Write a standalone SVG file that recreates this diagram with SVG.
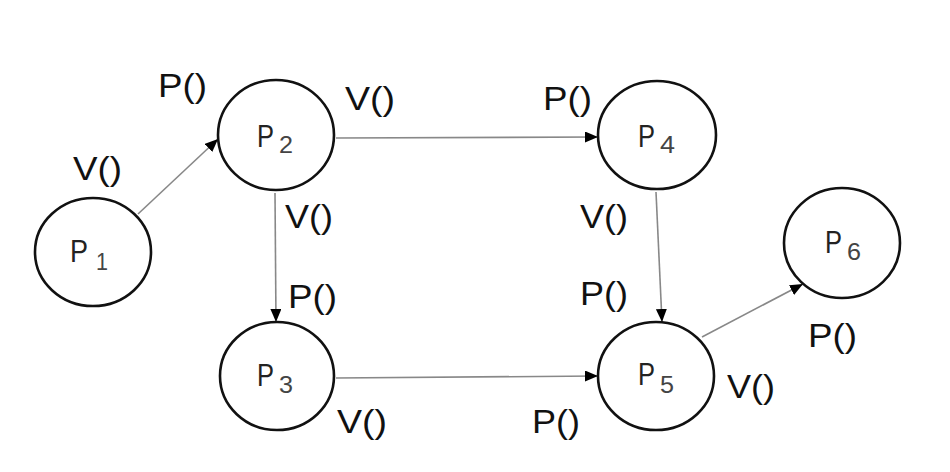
<svg xmlns="http://www.w3.org/2000/svg" width="950" height="472" viewBox="0 0 950 472">
<style>
.node ellipse{fill:#fff;stroke:#111;stroke-width:2.6}
.nl{font-family:"Liberation Sans",Arial,sans-serif;font-size:32px;fill:#222}
.ns{font-family:"Liberation Sans",Arial,sans-serif;font-size:23px;fill:#444}
.lbl{font-family:"Liberation Sans",Arial,sans-serif;font-size:34px;fill:#111}
.edge{stroke:#888;stroke-width:1.6;fill:none;marker-end:url(#ah)}
</style>
<defs>
<marker id="ah" markerUnits="userSpaceOnUse" markerWidth="14" markerHeight="12" refX="13" refY="5.5" orient="auto">
<path d="M0,0 L13,5.5 L0,11 z" fill="#000"/>
</marker>
</defs>
<rect width="950" height="472" fill="#fff"/>
<g id="connectors">
<line class="edge" x1="138" y1="214" x2="218" y2="139"/>
<line class="edge" x1="336" y1="138" x2="598" y2="137"/>
<line class="edge" x1="275" y1="193" x2="276" y2="322"/>
<line class="edge" x1="336" y1="378" x2="598" y2="376"/>
<line class="edge" x1="656" y1="192" x2="662" y2="322"/>
<line class="edge" x1="702" y1="337" x2="803" y2="284"/>
</g>
<g id="P1" class="node">
<ellipse cx="93" cy="252" rx="58" ry="54"/>
<text class="nl" x="70" y="262" textLength="18" lengthAdjust="spacingAndGlyphs">P</text>
<text class="ns" x="96" y="270" textLength="12" lengthAdjust="spacingAndGlyphs">1</text>
</g>
<g id="P2" class="node">
<ellipse cx="276" cy="135" rx="58" ry="55"/>
<text class="nl" x="257" y="147" textLength="17" lengthAdjust="spacingAndGlyphs">P</text>
<text class="ns" x="279" y="153" textLength="14" lengthAdjust="spacingAndGlyphs">2</text>
</g>
<g id="P3" class="node">
<ellipse cx="277" cy="376" rx="57" ry="54"/>
<text class="nl" x="257" y="386" textLength="17" lengthAdjust="spacingAndGlyphs">P</text>
<text class="ns" x="279" y="393" textLength="14" lengthAdjust="spacingAndGlyphs">3</text>
</g>
<g id="P4" class="node">
<ellipse cx="657" cy="135" rx="59" ry="54"/>
<text class="nl" x="638" y="147" textLength="17" lengthAdjust="spacingAndGlyphs">P</text>
<text class="ns" x="660" y="153" textLength="15" lengthAdjust="spacingAndGlyphs">4</text>
</g>
<g id="P5" class="node">
<ellipse cx="656" cy="376" rx="58" ry="54"/>
<text class="nl" x="638" y="385" textLength="17" lengthAdjust="spacingAndGlyphs">P</text>
<text class="ns" x="660" y="393" textLength="14" lengthAdjust="spacingAndGlyphs">5</text>
</g>
<g id="P6" class="node">
<ellipse cx="842" cy="243" rx="58" ry="55"/>
<text class="nl" x="825" y="253" textLength="17" lengthAdjust="spacingAndGlyphs">P</text>
<text class="ns" x="847" y="260" textLength="14" lengthAdjust="spacingAndGlyphs">6</text>
</g>
<g id="labels">
<text class="lbl" x="158" y="97" textLength="49" lengthAdjust="spacingAndGlyphs">P()</text>
<text class="lbl" x="73" y="180" textLength="49" lengthAdjust="spacingAndGlyphs">V()</text>
<text class="lbl" x="345" y="110" textLength="50" lengthAdjust="spacingAndGlyphs">V()</text>
<text class="lbl" x="285" y="228" textLength="48" lengthAdjust="spacingAndGlyphs">V()</text>
<text class="lbl" x="288" y="308" textLength="49" lengthAdjust="spacingAndGlyphs">P()</text>
<text class="lbl" x="337" y="433" textLength="50" lengthAdjust="spacingAndGlyphs">V()</text>
<text class="lbl" x="532" y="433" textLength="48" lengthAdjust="spacingAndGlyphs">P()</text>
<text class="lbl" x="543" y="110" textLength="49" lengthAdjust="spacingAndGlyphs">P()</text>
<text class="lbl" x="580" y="228" textLength="48" lengthAdjust="spacingAndGlyphs">V()</text>
<text class="lbl" x="580" y="305" textLength="48" lengthAdjust="spacingAndGlyphs">P()</text>
<text class="lbl" x="727" y="398" textLength="48" lengthAdjust="spacingAndGlyphs">V()</text>
<text class="lbl" x="808" y="347" textLength="49" lengthAdjust="spacingAndGlyphs">P()</text>
</g>
</svg>
